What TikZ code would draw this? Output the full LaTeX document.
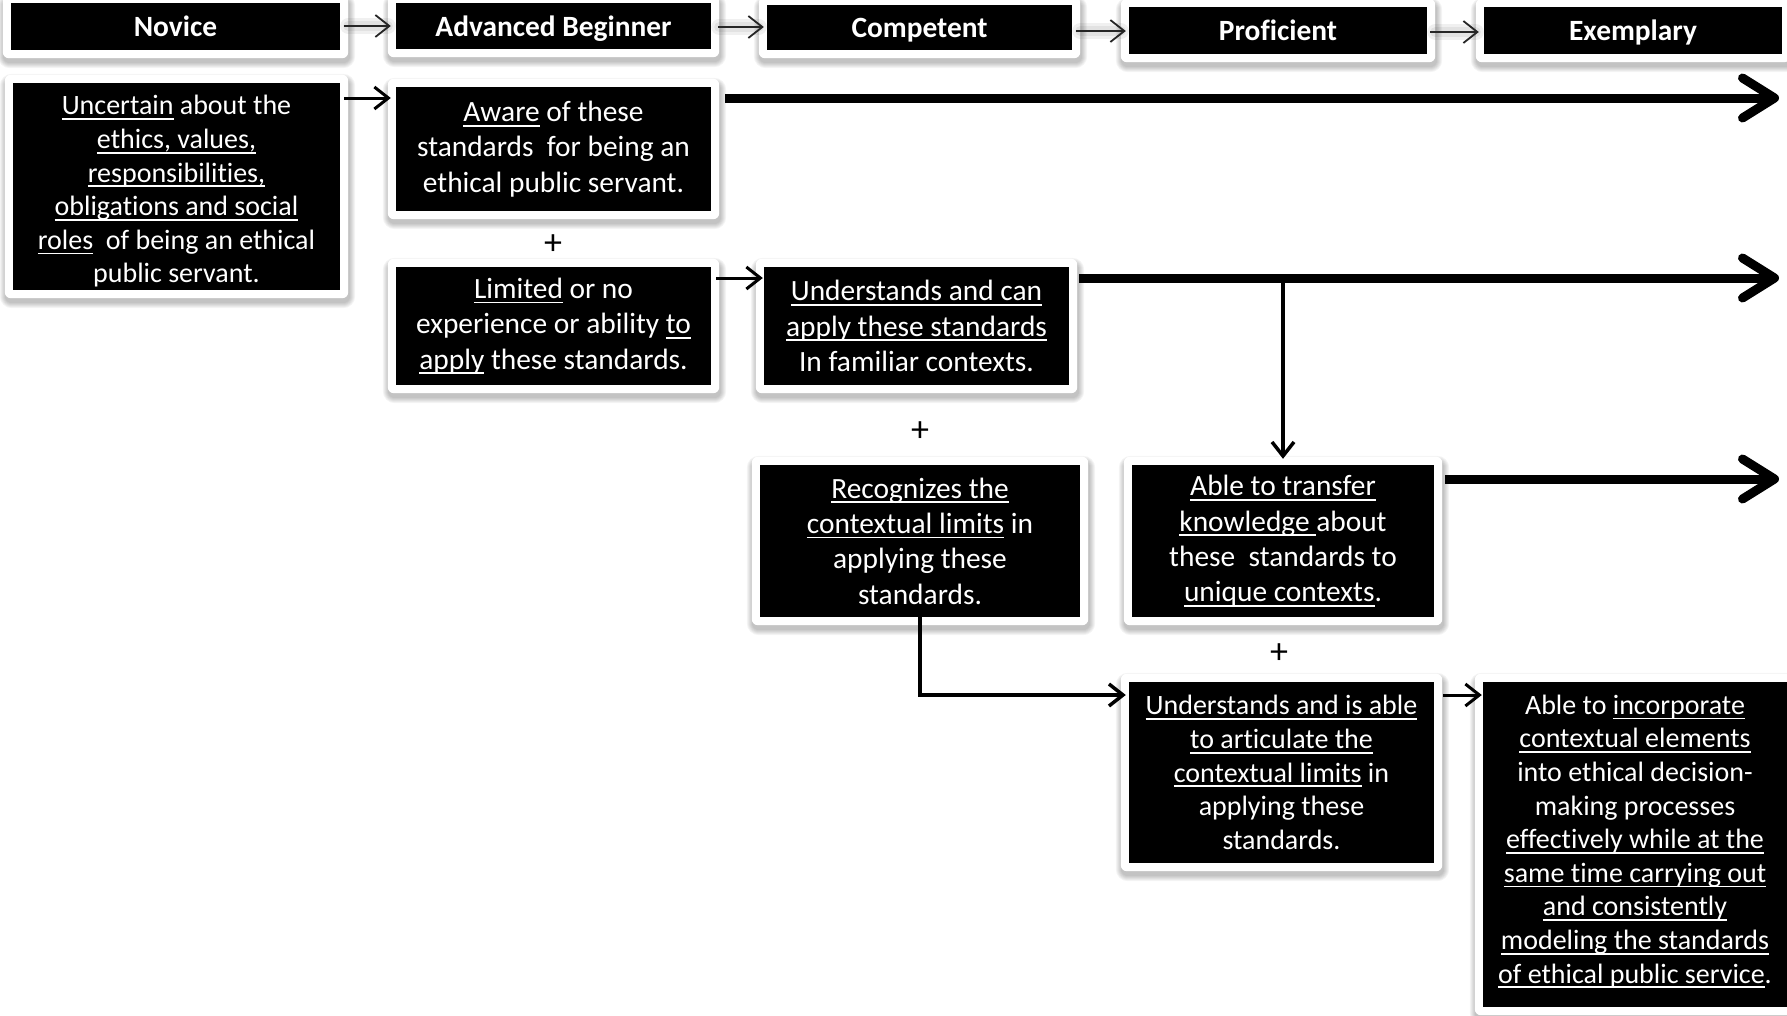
\documentclass[tikz,border=0pt]{standalone}
\usepackage{fontspec}
\setmainfont{Carlito}[Ligatures=NoCommon]
\usetikzlibrary{arrows.meta,backgrounds}

% underlined phrase with a fixed rule below the baseline
\newcommand{\uln}[1]{\setbox0\hbox{#1}\rlap{\rule[-5pt]{\wd0}{1.8pt}}\box0\relax}

\tikzset{
  blk/.style={fill=black, text=white, inner sep=0pt, align=center,
    font=\fontsize{29.4}{35.3}\selectfont},
  blks/.style={blk, font=\fontsize{28}{33.6}\selectfont},
  hdr/.style={blk, font=\fontsize{29.4}{35.3}\selectfont\bfseries, text height=22pt, text depth=2pt},
  halo/.style={draw=black, line cap=round, opacity=0.06},
  hlink/.style={draw=black!85, line width=1.8pt, -{Straight Barb[length=14pt,width=22pt]}},
  link/.style={draw=black, line width=3pt, -{Straight Barb[length=14pt,width=22pt]}},
  vlink/.style={draw=black, line width=3.5pt, -{Straight Barb[length=14pt,width=22pt]}},
  thick/.style={draw=black, line width=9pt, -{Straight Barb[length=32pt,width=40pt,round]}},
  plus/.style={font=\fontsize{36}{40}\selectfont, inner sep=0pt},
}

\begin{document}
\begin{tikzpicture}[x=1pt,y=-1pt]
\useasboundingbox (0,0) rectangle (1787,1015);

% level headers
\node[hdr, minimum width=329pt, minimum height=47pt] (hNov) at (175.5,26.5) {Novice};
\node[hdr, minimum width=315pt, minimum height=46pt] (hAdv) at (553.5,26) {Advanced Beginner};
\node[hdr, minimum width=305pt, minimum height=45pt] (hCom) at (919.5,27.5) {Competent};
\node[hdr, minimum width=298pt, minimum height=47pt] (hPro) at (1278,30.5) {Proficient};
\node[hdr, minimum width=298pt, minimum height=47pt] (hExe) at (1633,30.5) {Exemplary};

% descriptions
\node[blks, minimum width=327pt, minimum height=207pt,
  label={[blks, fill=none, yshift=-5pt]center:{\uln{Uncertain} about the\\ \uln{ethics, values,}\\ \uln{responsibilities,}\\
   \uln{obligations and social}\\ \uln{roles}\ \ of being an ethical\\ public servant.}}] (bNov) at (176.5,186.5) {};
\node[blk, minimum width=315pt, minimum height=124pt] (bAware) at (553.5,149)
  {\uln{Aware} of these\\ standards\ \ for being an\\ ethical public servant.};
\node[blk, minimum width=315pt, minimum height=118pt] (bLim) at (553.5,326)
  {\uln{Limited} or no\\ experience or ability \uln{to}\\ \uln{apply} these standards.};
\node[blk, minimum width=305pt, minimum height=118pt] (bUnd) at (916.5,326)
  {\uln{Understands and can}\\ \uln{apply these standards}\\ In familiar contexts.};
\node[blk, minimum width=320pt, minimum height=152pt] (bRec) at (920,541)
  {\uln{Recognizes the}\\ \uln{contextual limits} in\\ applying these\\ standards.};
\node[blk, minimum width=302pt, minimum height=152pt] (bTra) at (1283,541)
  {\uln{Able to transfer}\\ \uln{knowledge\ }about\\ these\ \ standards to\\ \uln{unique contexts}.};
\node[blks, minimum width=305pt, minimum height=181pt] (bArt) at (1281.5,772.5)
  {\uln{Understands and is able}\\ \uln{to articulate the}\\ \uln{contextual limits} in\\ applying these\\ standards.};
\node[blks, minimum width=304pt, minimum height=325pt,
  label={[blks, fill=none, yshift=3pt]center:{Able to \uln{incorporate}\\ \uln{contextual elements}\\ into ethical decision-\\ making processes\\
   \uln{effectively while at the}\\ \uln{same time carrying out}\\ \uln{and consistently}\\
   \uln{modeling the standards}\\ \uln{of ethical public service}.}}] (bInc) at (1635,844.5) {};

% plus signs
\node[plus] (p1) at (553,245) {+};
\node[plus] (p2) at (920,432) {+};
\node[plus] (p3) at (1279,654) {+};

% white cards with a soft shadow behind every box
\begin{scope}[on background layer]
\foreach \n in {hNov,hAdv,hCom,hPro,hExe,bNov,bAware,bLim,bUnd,bRec,bTra,bArt,bInc}{
  \foreach \k in {1,...,6}
    \fill[black, opacity=0.045, rounded corners=6pt+\k pt]
      ([shift={(-8-\k+1,-8-\k+5)}]\n.north west) rectangle ([shift={(8+\k+1,8+\k+4)}]\n.south east);
  \fill[white, rounded corners=6pt] ([shift={(-8,-8)}]\n.north west) rectangle ([shift={(8,8)}]\n.south east);
}
\end{scope}

% soft glow under the header sequence arrows
\foreach \a/\b/\y in {hNov/hAdv/26, hAdv/hCom/27, hCom/hPro/31, hPro/hExe/32}{
  \draw[halo, line width=16pt, shorten <=8pt, shorten >=8pt] (\a.east |- 0,\y) -- (\b.west |- 0,\y);
  \draw[halo, line width=10pt, shorten <=8pt, shorten >=8pt] (\a.east |- 0,\y) -- (\b.west |- 0,\y);
}

% header sequence
\draw[hlink, shorten <=4pt, shorten >=5pt] (hNov.east |- 0,26) -- (hAdv.west |- 0,26);
\draw[hlink, shorten <=7pt, shorten >=3pt] (hAdv.east |- 0,27) -- (hCom.west |- 0,27);
\draw[hlink, shorten <=4pt, shorten >=3pt] (hCom.east |- 0,31) -- (hPro.west |- 0,31);
\draw[hlink, shorten <=3pt, shorten >=5pt] (hPro.east |- 0,32) -- (hExe.west |- 0,32);

% free ends of the long arrows
\coordinate (tA) at (1779,98);
\coordinate (tB) at (1779,278);
\coordinate (tC) at (1779,479);
\coordinate (elb) at (0,695);

% progression links
\draw[link, shorten <=4pt, shorten >=5pt] (bNov.east |- tA) -- (bAware.west |- tA);
\draw[link, shorten <=5pt, shorten >=1pt] (bLim.east |- tB) -- (bUnd.west |- tB);
\draw[link, shorten <=9pt, shorten >=1pt] (bArt.east |- elb) -- (bInc.west |- elb);
\draw[thick, shorten <=14pt] (bAware.east |- tA) -- (tA);
\draw[thick, shorten <=10pt] (bUnd.east |- tB) -- (tB);
\draw[thick, shorten <=11pt] (bTra.east |- tC) -- (tC);
\draw[vlink, shorten >=6pt] (bTra.north |- tB) -- (bTra.north);
\draw[vlink, shorten >=3pt] (bRec.south) |- (bArt.west |- elb);

\end{tikzpicture}
\end{document}
